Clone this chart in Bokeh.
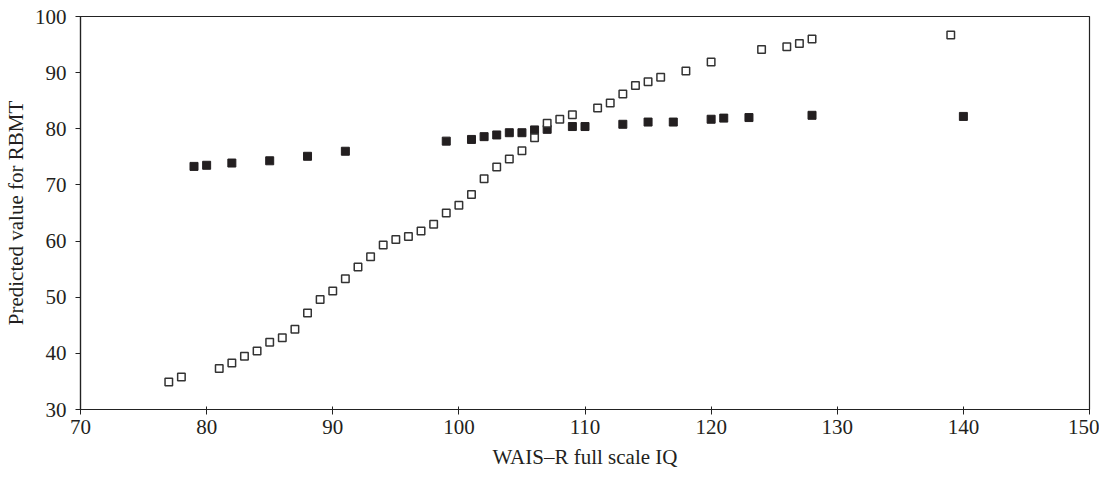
from bokeh.plotting import figure
from bokeh.models import Range1d, FixedTicker, Title
from bokeh.embed import file_html
from bokeh.resources import INLINE

# Open squares series
iq_open = [77, 78, 81, 82, 83, 84, 85, 86, 87, 88, 89, 90, 91, 92, 93, 94, 95, 96, 97, 98,
           99, 100, 101, 102, 103, 104, 105, 106, 107, 108, 109, 111, 112, 113, 114, 115,
           116, 118, 120, 124, 126, 127, 128, 139]
rbmt_open = [34.9, 35.8, 37.3, 38.3, 39.5, 40.4, 42.0, 42.8, 44.3, 47.2, 49.6, 51.1, 53.3,
             55.4, 57.2, 59.3, 60.3, 60.8, 61.8, 63.0, 65.0, 66.4, 68.3, 71.1, 73.2, 74.6,
             76.1, 78.4, 81.0, 81.7, 82.5, 83.7, 84.6, 86.2, 87.7, 88.4, 89.2, 90.3, 91.9,
             94.1, 94.6, 95.2, 96.0, 96.7]

# Filled squares series
iq_fill = [79, 80, 82, 85, 88, 91, 99, 101, 102, 103, 104, 105, 106, 107, 109, 110, 113,
           115, 117, 120, 121, 123, 128, 140]
rbmt_fill = [73.3, 73.5, 73.9, 74.3, 75.1, 76.0, 77.8, 78.1, 78.6, 78.9, 79.3, 79.3, 79.8,
             79.9, 80.4, 80.4, 80.8, 81.2, 81.2, 81.7, 81.9, 82.0, 82.4, 82.2]

x_ticks = [70, 80, 90, 100, 110, 120, 130, 140, 150]
y_ticks = [30, 40, 50, 60, 70, 80, 90, 100]
x_title = "WAIS\u2013R full scale IQ"
y_title = "Predicted value for RBMT"

FONT = "Liberation Serif"

p = figure(width=1099, height=474, output_backend="svg", toolbar_location=None,
           x_range=Range1d(70, 150), y_range=Range1d(30, 100),
           min_border_left=75, min_border_right=10, min_border_top=16, min_border_bottom=65)

p.xgrid.visible = False
p.ygrid.visible = False
p.outline_line_color = "#222222"
p.outline_line_width = 1.2
p.background_fill_color = "white"
p.border_fill_color = "white"

p.scatter(iq_fill, rbmt_fill, marker="square", size=8, fill_color="#231f20",
          line_color="#231f20", line_width=1)
p.scatter(iq_open, rbmt_open, marker="square", size=7.5, fill_color="white",
          line_color="#333333", line_width=1.5)

for ax in (p.xaxis[0], p.yaxis[0]):
    ax.axis_line_color = "#222222"
    ax.axis_line_width = 1.2
    ax.major_tick_line_color = "#222222"
    ax.minor_tick_line_color = None
    ax.major_label_text_font = FONT
    ax.major_label_text_font_size = "21px"
    ax.major_label_text_color = "#231f20"
    ax.axis_label_text_font = FONT
    ax.axis_label_text_font_size = "21px"
    ax.axis_label_text_font_style = "normal"
    ax.axis_label_text_color = "#231f20"

p.xaxis.ticker = FixedTicker(ticks=x_ticks)
p.yaxis.ticker = FixedTicker(ticks=y_ticks)
p.xaxis.major_tick_out = 5
p.xaxis.major_tick_in = 3
p.yaxis.major_tick_out = 5
p.yaxis.major_tick_in = 0
p.xaxis.major_label_standoff = 5
p.yaxis.major_label_standoff = 9
p.yaxis.axis_label = y_title
p.yaxis.axis_label_standoff = 4

# x-axis title as a title placed below the axis
p.add_layout(Title(text=x_title, align="center", text_font=FONT, text_font_size="21px",
                   text_font_style="normal", text_color="#231f20", standoff=12,
                   offset=0), "below")

open("out.html", "w").write(file_html(p, INLINE))
